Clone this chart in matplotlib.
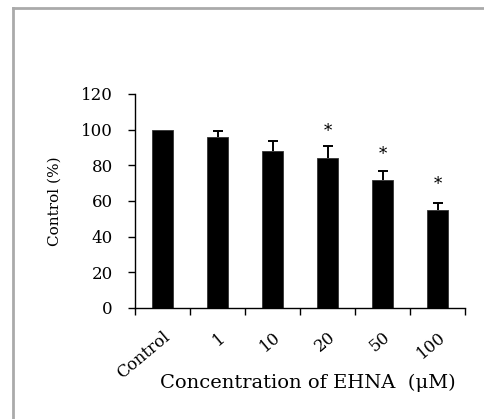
import matplotlib
matplotlib.use("Agg")
import matplotlib.pyplot as plt
from matplotlib.lines import Line2D

categories = ["Control", "1", "10", "20", "50", "100"]
values = [100, 96, 88, 84, 71.5, 55]
errors = [0, 3, 5.5, 6.5, 5, 4]
star_y = [None, None, None, 99, 86, 69]

plt.rcParams["font.family"] = ["DejaVu Serif"]

fig = plt.figure(figsize=(4.84, 4.19), dpi=100)
ax = fig.add_axes([0.279, 0.265, 0.682, 0.511])

x = list(range(len(categories)))
ax.bar(x, values, width=0.38, color="black", edgecolor="#333333", linewidth=0.6, zorder=2)

# upper error bars only
for xi, v, e in zip(x, values, errors):
    if e > 0:
        ax.vlines(xi, v, v + e, color="black", linewidth=1.4, zorder=3)
        ax.hlines(v + e, xi - 0.09, xi + 0.09, color="black", linewidth=1.4, zorder=3)

for xi, sy in zip(x, star_y):
    if sy is not None:
        ax.text(xi, sy, "*", ha="center", va="center", fontsize=12)

ax.set_xlim(-0.5, 5.5)
ax.set_ylim(0, 120)
ax.set_yticks(range(0, 121, 20))
ax.set_xticks(x)
ax.set_xticklabels(categories, rotation=40, ha="right", rotation_mode="anchor", fontsize=12)
ax.set_xticks([i - 0.5 for i in range(len(categories) + 1)], minor=True)
ax.tick_params(axis="x", which="major", length=0, pad=15)
ax.tick_params(axis="x", which="minor", length=5, width=1, direction="out")
ax.tick_params(axis="y", length=5, width=1, labelsize=12, pad=11)

for side in ("top", "right"):
    ax.spines[side].set_visible(False)
for side in ("left", "bottom"):
    ax.spines[side].set_linewidth(1)

ax.set_ylabel("Control (%)", fontsize=11, labelpad=14)
fig.text(0.637, 0.086, "Concentration of EHNA  (\u03bcM)", ha="center", va="center", fontsize=14)

# grey frame on top and left edges
fig.add_artist(Line2D([0.026, 0.026], [0, 0.982], color="#aaaaaa", linewidth=2, transform=fig.transFigure))
fig.add_artist(Line2D([0.026, 1], [0.982, 0.982], color="#aaaaaa", linewidth=2, transform=fig.transFigure))

fig.savefig("out.png", dpi=100)
